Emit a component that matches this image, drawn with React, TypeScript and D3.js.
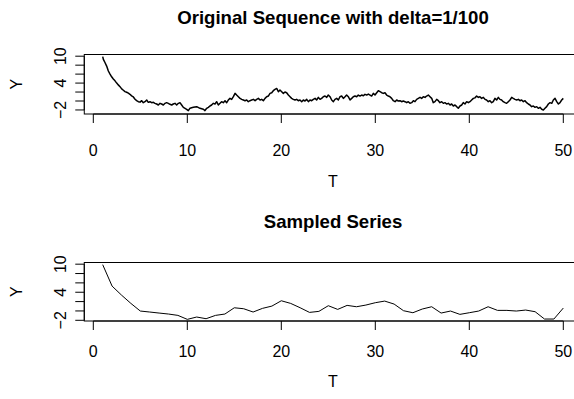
import React from "react";
import * as d3 from "d3";

// ---- Data ----
const origT = [
  1.0, 1.07, 1.24, 1.42, 1.6, 1.78, 1.95, 2.13, 2.31, 2.49, 2.66, 2.84, 3.02, 3.2, 3.37, 3.55, 3.73, 3.9, 4.08, 4.26,
  4.44, 4.61, 4.79, 4.97, 5.15, 5.32, 5.5, 5.68, 5.85, 6.03, 6.21, 6.39, 6.56, 6.74, 6.92, 7.1, 7.27, 7.45, 7.63, 7.8,
  7.98, 8.16, 8.34, 8.51, 8.69, 8.87, 9.05, 9.22, 9.4, 9.58, 9.76, 9.93, 10.11,
  10.29, 10.64, 11.0, 11.35, 11.71, 11.88, 12.06, 12.24, 12.41, 12.59, 12.77, 12.95, 13.12, 13.3, 13.48, 13.65, 13.83,
  14.01, 14.19, 14.36, 14.54, 14.72, 14.9, 15.08, 15.25, 15.43, 15.61, 15.79, 15.96, 16.14, 16.32, 16.49, 16.67, 16.85,
  17.03, 17.21, 17.38, 17.56, 17.74, 17.91, 18.09, 18.27, 18.44, 18.62, 18.8, 18.98, 19.15, 19.33, 19.51, 19.69, 19.86,
  20.04, 20.22,
  20.39, 20.57, 20.75, 20.93, 21.1, 21.28, 21.46, 21.63, 21.81, 21.99, 22.17, 22.34, 22.52, 22.7, 22.88, 23.05, 23.23,
  23.41, 23.59, 23.76, 23.94, 24.12, 24.29, 24.47, 24.65, 24.83, 25.0, 25.18, 25.36, 25.54, 25.71, 25.89, 26.07, 26.24,
  26.42, 26.6, 26.78, 26.95, 27.13, 27.31, 27.49, 27.66, 27.84, 28.02, 28.19, 28.37, 28.55, 28.73, 28.9, 29.08, 29.26,
  29.44, 29.61, 29.79, 29.97, 30.15, 30.32,
  30.5, 30.68, 30.85, 31.03, 31.21, 31.39, 31.56, 31.74, 31.92, 32.1, 32.27, 32.45, 32.63, 32.8, 32.98, 33.16, 33.34,
  33.51, 33.69, 33.87, 34.05, 34.22, 34.4, 34.58, 34.76, 34.93, 35.11, 35.29, 35.46, 35.64, 35.82, 36.0, 36.17, 36.35,
  36.53, 36.71, 36.88, 37.06, 37.24, 37.41, 37.59, 37.77, 37.95, 38.12, 38.3, 38.48, 38.66, 38.83, 39.01, 39.19, 39.36,
  39.54, 39.72, 39.9, 40.07, 40.25, 40.43,
  40.6, 40.78, 40.96, 41.13, 41.31, 41.49, 41.67, 41.84, 42.02, 42.2, 42.38, 42.55, 42.73, 42.91, 43.09, 43.26, 43.44,
  43.61, 43.8, 43.97, 44.15, 44.33, 44.51, 44.68, 44.86, 45.04, 45.22, 45.39, 45.57, 45.75, 45.93, 46.1, 46.28, 46.46,
  46.63, 46.81, 46.99, 47.17, 47.34, 47.52, 47.7, 47.88, 48.05, 48.23, 48.41, 48.59, 48.77, 48.94, 49.12, 49.3, 49.48,
  49.65, 49.83, 50.0,
];

const origY = [
  9.9, 9.3, 8.6, 7.8, 6.7, 6.0, 5.4, 4.9, 4.5, 4.0, 3.6, 3.2, 2.7, 2.4, 2.1, 1.95, 1.75, 1.5, 1.15, 0.9,
  0.4, 0.1, -0.15, -0.25, 0.07, -0.37, -0.15, 0.22, -0.3, -0.15, -0.37, -0.3, -0.52, -0.67, -0.89, -0.52, -0.67, -0.89, -0.52, -0.37,
  -0.52, -0.74, -0.89, -0.67, -0.52, -0.89, -0.52, -0.37, -0.89, -1.41, -1.63, -1.85, -2.15,
  -1.6, -1.41, -1.26, -1.63, -1.85, -2.15, -1.63, -1.41, -1.11, -0.89, -0.52, -0.67, -0.15, -0.89, -0.52, -0.15, -0.37,
  0.07, -0.37, 0.22, 0.59, 0.37, 0.96, 1.7, 1.33, 0.96, 0.59, 0.37, 0.22, 0.07, 0.22, -0.15, 0.07, 0.22,
  0.37, 0.07, 0.37, 0.59, 0.22, 0.37, 0.07, 0.59, 0.96, 1.11, 1.7, 1.85, 2.3, 2.59, 2.81, 2.07, 2.44,
  2.07, 1.7,
  2.0, 1.85, 1.33, 0.96, 0.59, 0.37, 0.22, 0.37, 0.07, 0.22, -0.15, 0.22, 0.0, 0.37, -0.15, 0.22, 0.07,
  0.37, 0.59, 0.22, 0.81, 0.37, 0.59, 0.96, 1.11, 0.81, 1.33, 0.96, 0.22, -0.15, 0.37, 0.59, 0.22, 0.96,
  1.11, 0.59, 0.96, 1.33, 0.96, 0.22, 0.59, 0.96, 1.11, 0.96, 1.33, 1.11, 1.33, 1.18, 1.48, 1.33, 1.56,
  1.33, 1.11, 1.7, 1.33, 1.85, 2.3,
  2.07, 1.85, 1.7, 1.85, 1.33, 1.11, 0.96, 0.59, 0.07, -0.15, 0.22, 0.0, 0.07, -0.15, 0.0, -0.15, -0.37,
  -0.15, -0.52, -0.37, 0.07, -0.15, 0.37, 0.59, 0.81, 0.59, 0.96, 0.81, 1.11, 1.33, 0.96, 0.59, -0.37, -0.15,
  0.37, 0.07, -0.37, -0.15, -0.52, -0.37, -0.67, -0.52, -0.89, -0.67, -1.11, -0.89, -1.26, -1.63, -1.11, -0.89, -0.37,
  -0.67, -0.15, -0.37, -0.15, 0.22, 0.59,
  0.7, 1.11, 0.81, 0.96, 0.59, 0.81, 0.37, 0.22, -0.15, 0.07, -0.37, -0.15, 0.59, 0.22, 0.81, 0.37, 0.22,
  -0.15, -0.37, -0.52, -0.15, 0.22, 0.81, 0.59, 0.37, 0.22, 0.37, 0.07, 0.22, -0.15, 0.07, -0.37, -0.67, -0.89,
  -1.26, -1.11, -1.41, -1.26, -1.63, -1.41, -1.85, -2.0, -1.63, -1.26, -0.67, -0.37, -0.52, 0.22, 0.59, -0.15, -0.67,
  -0.37, 0.22, 0.59,
];

const sampT = d3.range(1, 51);
const sampY = [
  9.9, 5.31, 3.39, 1.61, -0.02, -0.23, -0.45, -0.66, -0.95, -1.8,
  -1.3, -1.66, -0.95, -0.66, 0.68, 0.47, -0.23, 0.55, 1.04, 2.18,
  1.61, 0.69, -0.31, -0.09, 1.12, 0.33, 1.19, 0.9, 1.26, 1.76,
  2.11, 1.47, 0.05, -0.38, 0.41, 0.9, -0.45, -0.02, -0.73, -0.38,
  -0.02, 0.9, 0.12, 0.12, -0.02, 0.19, -0.16, -1.73, -1.73, 0.62,
];

const xTicks = [0, 10, 20, 30, 40, 50];
const yTicks = [-2, 0, 2, 4, 6, 8, 10];
const yTickLabels = [-2, 4, 10];
const titles = ["Original Sequence with delta=1/100", "Sampled Series"];
const xTitle = "T";
const yTitle = "Y";

// ---- Layout ----
const W = 574;
const H = 399;
const FONT = "'Liberation Sans', Arial, Helvetica, sans-serif";

const xScale = d3.scaleLinear().domain([0, 50]).range([93.3, 563.3]);
const xExt = 0.04 * (d3.max(sampT)! - d3.min(sampT)!);
const boxLeft = xScale(d3.min(sampT)! - xExt);
const boxRight = xScale(d3.max(sampT)! + xExt);

type PanelCfg = {
  top: number;
  bottom: number;
  yDomain: [number, number];
  titleY: number;
  tickLabelY: number;
  xTitleY: number;
  title: string;
  xs: number[];
  ys: number[];
  lineWidth: number;
};

const panels: PanelCfg[] = [
  {
    top: 54.5,
    bottom: 114,
    yDomain: [-2.9, 10.38],
    titleY: 24,
    tickLabelY: 156,
    xTitleY: 187,
    title: titles[0],
    xs: origT,
    ys: origY,
    lineWidth: 1.5,
  },
  {
    top: 262.5,
    bottom: 321,
    yDomain: [-2.15, 10.36],
    titleY: 228,
    tickLabelY: 356.5,
    xTitleY: 387,
    title: titles[1],
    xs: sampT,
    ys: sampY,
    lineWidth: 1,
  },
];

function Panel({ cfg }: { cfg: PanelCfg }) {
  const y = d3.scaleLinear().domain(cfg.yDomain).range([cfg.bottom, cfg.top]);
  const line = d3
    .line<number>()
    .x((_, i) => xScale(cfg.xs[i]))
    .y((d) => y(d));
  const path = line(cfg.ys) || "";
  const midY = (cfg.top + cfg.bottom) / 2;
  const midX = (boxLeft + boxRight) / 2;
  const tick = 9;
  return (
    <g>
      <text
        x={midX}
        y={cfg.titleY}
        textAnchor="middle"
        fontFamily={FONT}
        fontWeight="bold"
        fontSize={18.6}
        fill="#000"
      >
        {cfg.title}
      </text>
      {/* plotted series */}
      <path d={path} fill="none" stroke="#000" strokeWidth={cfg.lineWidth} strokeLinejoin="round" />
      {/* box */}
      <rect
        x={boxLeft}
        y={cfg.top}
        width={boxRight - boxLeft}
        height={cfg.bottom - cfg.top}
        fill="none"
        stroke="#000"
        strokeWidth={1}
      />
      {/* x axis */}
      <line x1={xScale(0)} x2={xScale(50)} y1={cfg.bottom} y2={cfg.bottom} stroke="#000" />
      {xTicks.map((t) => (
        <g key={"x" + t}>
          <line x1={xScale(t)} x2={xScale(t)} y1={cfg.bottom} y2={cfg.bottom + tick} stroke="#000" />
          <text
            x={xScale(t)}
            y={cfg.tickLabelY}
            textAnchor="middle"
            fontFamily={FONT}
            fontSize={16}
            fill="#000"
          >
            {String(t)}
          </text>
        </g>
      ))}
      <text x={midX} y={cfg.xTitleY} textAnchor="middle" fontFamily={FONT} fontSize={16} fill="#000">
        {xTitle}
      </text>
      {/* y axis */}
      <line x1={boxLeft} x2={boxLeft} y1={y(-2)} y2={y(10)} stroke="#000" />
      {yTicks.map((t) => (
        <line key={"y" + t} x1={boxLeft - tick} x2={boxLeft} y1={y(t)} y2={y(t)} stroke="#000" />
      ))}
      {yTickLabels.map((t) => (
        <text
          key={"yl" + t}
          transform={`translate(66,${y(t)}) rotate(-90)`}
          textAnchor="middle"
          fontFamily={FONT}
          fontSize={16}
          fill="#000"
        >
          {t < 0 ? "\u2212" + Math.abs(t) : String(t)}
        </text>
      ))}
      <text
        transform={`translate(22,${midY}) rotate(-90)`}
        textAnchor="middle"
        fontFamily={FONT}
        fontSize={16}
        fill="#000"
      >
        {yTitle}
      </text>
    </g>
  );
}

export default function App() {
  return (
    <svg
      width={W}
      height={H}
      viewBox={`0 0 ${W} ${H}`}
      style={{ position: "absolute", left: 0, top: 0, display: "block", background: "#fff" }}
    >
      <rect x={0} y={0} width={W} height={H} fill="#fff" />
      {panels.map((p, i) => (
        <Panel key={i} cfg={p} />
      ))}
    </svg>
  );
}
